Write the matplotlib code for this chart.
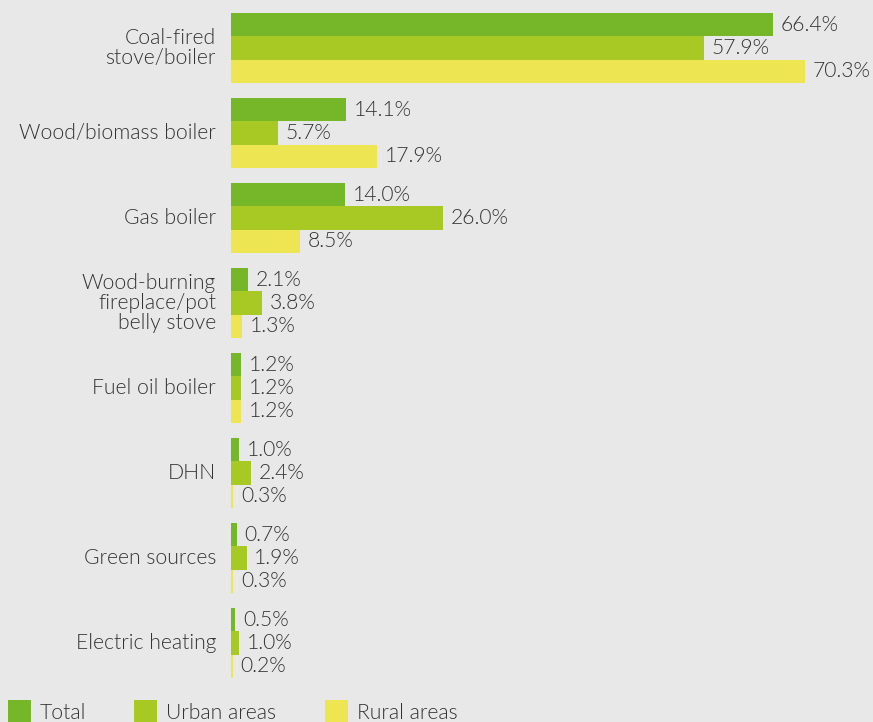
import matplotlib
matplotlib.use("Agg")
import matplotlib.pyplot as plt
from matplotlib.patches import Rectangle
import numpy as np

categories = [
    "Coal-fired\nstove/boiler",
    "Wood/biomass boiler",
    "Gas boiler",
    "Wood-burning\nfireplace/pot\nbelly stove",
    "Fuel oil boiler",
    "DHN",
    "Green sources",
    "Electric heating",
]
series_names = ["Total", "Urban areas", "Rural areas"]
total = [66.4, 14.1, 14.0, 2.1, 1.2, 1.0, 0.7, 0.5]
urban = [57.9, 5.7, 26.0, 3.8, 1.2, 2.4, 1.9, 1.0]
rural = [70.3, 17.9, 8.5, 1.3, 1.2, 0.3, 0.3, 0.2]
colors = ["#76b72a", "#a8c823", "#ede552"]

plt.rcParams["font.family"] = ["Lato", "DejaVu Sans"]
bg = "#e8e8e8"
txt = "#333333"
fs = 15.2
fw = 350

W, H = 873, 722
fig = plt.figure(figsize=(W / 100, H / 100), dpi=100, facecolor=bg)
ax = fig.add_axes([231 / W, 0, 1 - 231 / W, 1])
ax.set_facecolor(bg)

px_per_pct = 8.165
ax.set_xlim(0, (W - 231) / px_per_pct)
ax.set_ylim(H, 0)

group_top0 = 13
group_step = 85
bar_h = 70 / 3

for j, (vals, col) in enumerate(zip([total, urban, rural], colors)):
    y = [group_top0 + group_step * i + bar_h * (j + 0.5) for i in range(len(categories))]
    ax.barh(y, vals, height=bar_h, color=col, linewidth=0)
    for yy, v in zip(y, vals):
        ax.text(v + 0.95, yy, f"{v:.1f}%", va="center", ha="left",
                fontsize=fs, color=txt, fontweight=fw)

for i, c in enumerate(categories):
    yc = group_top0 + group_step * i + 35
    fig.text(216 / W, 1 - yc / H, c, ha="right", va="center", fontsize=fs,
             color=txt, linespacing=1.0, fontweight=fw)

ax.axis("off")

# legend along the bottom edge
leg_x = [8, 134, 325]
for x0, name, col in zip(leg_x, series_names, colors):
    fig.patches.append(Rectangle((x0 / W, 0), 23 / W, 22 / H, transform=fig.transFigure,
                                 facecolor=col, edgecolor="none"))
    fig.text((x0 + 32) / W, 1 - 713 / H, name, ha="left", va="center",
             fontsize=fs, color=txt, fontweight=fw)

fig.savefig("out.png", dpi=100, facecolor=bg)
